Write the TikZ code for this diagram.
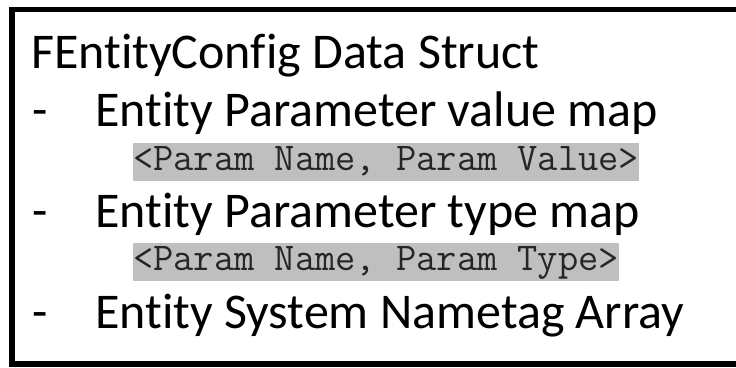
\documentclass[tikz,border=0pt]{standalone}
\usepackage{fontspec}
\setmainfont[Ligatures=CommonOff]{Carlito}
\definecolor{hlgray}{HTML}{BFBFBF}
\definecolor{codetext}{HTML}{262626}
\begin{document}
\begin{tikzpicture}[x=1pt,y=-1pt,
  titletext/.style={anchor=base west,inner sep=0pt,font=\fontsize{50}{56}\selectfont},
  bodytext/.style={anchor=base west,inner sep=0pt,font=\fontsize{50}{56}\selectfont},
  codebox/.style={anchor=base west,inner xsep=0pt,inner ysep=0pt,fill=hlgray,text=codetext,
    text height=27.5pt,text depth=11pt,font=\ttfamily\fontsize{39.3}{42}\selectfont}]
\useasboundingbox (0,0) rectangle (736,367);
\draw[line width=5.5pt] (12,9.5) rectangle (745,364);
\node[titletext] (title) at (31,68) {FEntityConfig Data Struct};
\node[bodytext] (d1) at (32,126) {-};
\node[bodytext] (l1) at (95,126) {Entity Parameter value map};
\node[codebox] (c1) at (133,170) {<Param Name, Param Value>};
\node[bodytext] (d2) at (32,227) {-};
\node[bodytext] (l2) at (95,227) {Entity Parameter type map};
\node[codebox] (c2) at (133,270) {<Param Name, Param Type>};
\node[bodytext] (d3) at (32,328) {-};
\node[bodytext] (l3) at (95,328) {Entity System Nametag Array};
\end{tikzpicture}
\end{document}
